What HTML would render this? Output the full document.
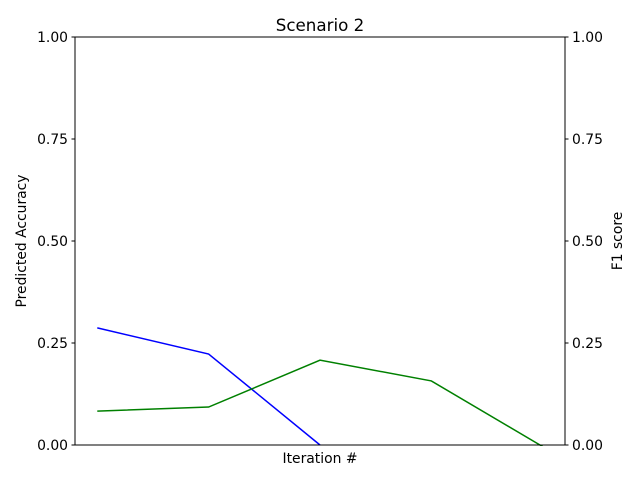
<!DOCTYPE html>
<html><head><meta charset="utf-8"><style>
body{margin:0;background:#fff;}
svg text{font-family:"DejaVu Sans","Liberation Sans",sans-serif;fill:#000;}
</style></head><body>
<svg width="640" height="480">
<g id="axes"></g>
</svg>
<script>
const iterations = [0, 1, 2, 3, 4];
const predictedAccuracy = [0.287, 0.223, 0.0];
const f1Score = [0.083, 0.093, 0.208, 0.157, -0.004];
const yTicks = [0, 0.25, 0.5, 0.75, 1.0];
const yTickLabels = ["0.00", "0.25", "0.50", "0.75", "1.00"];

const L = 75, R = 565, T = 37, B = 445;
const xMin = -0.2, xMax = 4.2;
const sx = v => L + (v - xMin) / (xMax - xMin) * (R - L);
const sy = v => B - v * (B - T);
const NS = "http://www.w3.org/2000/svg";
const g = document.getElementById('axes');
function mk(tag, attrs, parent) {
  const e = document.createElementNS(NS, tag);
  for (const k in attrs) e.setAttribute(k, attrs[k]);
  (parent || g).appendChild(e);
  return e;
}
const clip = mk('clipPath', {id: 'pc'});
mk('rect', {x: L, y: T, width: R - L, height: B - T + 1}, clip);

function series(vals, color, name) {
  const pts = vals.map((v, i) => sx(iterations[i]) + ',' + sy(v)).join(' ');
  const p = mk('polyline', {points: pts, fill: 'none', stroke: color, 'stroke-width': 1.5, 'clip-path': 'url(#pc)'});
  
  
}
series(predictedAccuracy, '#0000ff', 'predicted-accuracy-line');
series(f1Score, '#008000', 'f1-score-line');

const frame = mk('rect', {x: L, y: T, width: R - L, height: B - T, fill: 'none', stroke: '#000', 'stroke-width': 1});



yTicks.forEach((v, i) => {
  const y = sy(v);
  mk('line', {x1: L - 3.5, x2: L, y1: y, y2: y, stroke: '#000'});
  mk('line', {x1: R, x2: R + 3.5, y1: y, y2: y, stroke: '#000'});
  const tl = mk('text', {x: L - 7, y: y + 5, 'text-anchor': 'end', 'font-size': 13.9});
  tl.textContent = yTickLabels[i];
  
  
  const tr = mk('text', {x: R + 7, y: y + 5, 'text-anchor': 'start', 'font-size': 13.9});
  tr.textContent = yTickLabels[i];
  
  
});

const title = mk('text', {x: 320, y: 31, 'text-anchor': 'middle', 'font-size': 16.7});
title.textContent = 'Scenario 2';



const xl = mk('text', {x: 320, y: 463, 'text-anchor': 'middle', 'font-size': 13.9});
xl.textContent = 'Iteration #';



const yl = mk('text', {x: 26, y: 241, 'text-anchor': 'middle', 'font-size': 13.9, transform: 'rotate(-90 26 241)'});
yl.textContent = 'Predicted Accuracy';



const yr = mk('text', {x: 622, y: 241, 'text-anchor': 'middle', 'font-size': 13.9, transform: 'rotate(-90 622 241)'});
yr.textContent = 'F1 score';


</script>
</body></html>
